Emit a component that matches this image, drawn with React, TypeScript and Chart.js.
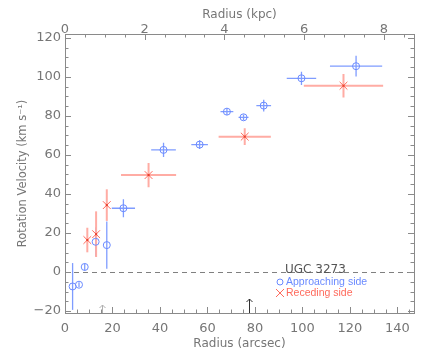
import React, { useEffect, useRef } from 'react';
import { Chart, registerables } from 'chart.js';
Chart.register(...registerables);

// Approaching side (blue circles)
const approachR = [3.2, 5.9, 8.3, 12.9, 17.6, 24.6, 41.5, 56.7, 68.2, 75.2, 83.7, 99.6, 122.6];
const approachV = [-7.4, -6.5, 2.6, 15.5, 13.8, 32.7, 62.6, 65.3, 82.2, 79.3, 85.3, 99.3, 105.5];
const approachRErr = [0, 0, 0, 0, 0, 4.9, 5.2, 3.5, 2.7, 2.1, 3.1, 6.2, 11];
const approachVErr = [12, 1.2, 1.8, 7.4, 12.1, 4.6, 3.6, 2.2, 1.7, 1.5, 3, 3.4, 5.3];

// Receding side (red crosses)
const recedeR = [9.4, 13.1, 17.6, 35.2, 75.7, 117.3];
const recedeV = [16.4, 19.4, 34.3, 49.7, 69.4, 95.5];
const recedeRErr = [0, 0, 0, 11.6, 11, 16.7];
const recedeVErr = [6.3, 11.7, 8.1, 6.2, 4.3, 6];

// Markers along the radius axis
const arrowGrayR = 15.4;
const arrowBlackR = 77.3;

const xMin = 0, xMax = 147;
const yMin = -21, yMax = 122;
const kpcPerArcsec = 8 / 134.3;

const xTicks = [0, 20, 40, 60, 80, 100, 120, 140];
const kpcTicks = [0, 2, 4, 6, 8];
const yTicks = [-20, 0, 20, 40, 60, 80, 100, 120];

const galaxyName = 'UGC 3273';
const legendApproach = 'Approaching side';
const legendRecede = 'Receding side';

const BLUE = '#6a8aff';
const BLUE_BAR = '#7f9cff';
const RED = '#ff6a5c';
const RED_BAR = '#ffaca4';
const AXIS = '#8a8a8a';
const LABEL = '#767676';
const FONT = 'DejaVu Sans';

export default function App() {
  const ref = useRef<HTMLCanvasElement>(null);
  useEffect(() => {
    const canvas = ref.current!;
    const errorBars = {
      id: 'errorBars',
      beforeDatasetsDraw(chart: any) {
        const { ctx, scales } = chart;
        const x = scales.x, y = scales.y;
        ctx.save();
        // zero line
        ctx.strokeStyle = '#808080';
        ctx.lineWidth = 1;
        ctx.setLineDash([5, 4]);
        const y0 = Math.round(y.getPixelForValue(0)) + 0.5;
        ctx.beginPath();
        ctx.moveTo(chart.chartArea.left, y0);
        ctx.lineTo(chart.chartArea.right, y0);
        ctx.stroke();
        ctx.setLineDash([]);
        const draw = (R: number[], V: number[], RE: number[], VE: number[], color: string, w: number) => {
          ctx.strokeStyle = color;
          ctx.lineWidth = w;
          for (let i = 0; i < R.length; i++) {
            const px = x.getPixelForValue(R[i]);
            const py = y.getPixelForValue(V[i]);
            ctx.beginPath();
            if (RE[i] > 0) {
              ctx.moveTo(x.getPixelForValue(R[i] - RE[i]), py);
              ctx.lineTo(x.getPixelForValue(R[i] + RE[i]), py);
            }
            if (VE[i] > 0) {
              ctx.moveTo(px, y.getPixelForValue(V[i] - VE[i]));
              ctx.lineTo(px, y.getPixelForValue(V[i] + VE[i]));
            }
            ctx.stroke();
          }
        };
        draw(approachR, approachV, approachRErr, approachVErr, BLUE_BAR, 1.3);
        draw(recedeR, recedeV, recedeRErr, recedeVErr, RED_BAR, 2);
        ctx.restore();
      },
      afterDatasetsDraw(chart: any) {
        const { ctx, scales } = chart;
        const x = scales.x, y = scales.y;
        ctx.save();
        ctx.fillStyle = '#e8402c';
        for (let i = 0; i < recedeR.length; i++) {
          const px = x.getPixelForValue(recedeR[i]);
          const py = y.getPixelForValue(recedeV[i]);
          ctx.fillRect(px - 1, py - 1, 2, 2);
        }
        ctx.restore();
      },
      afterDraw(chart: any) {
        const { ctx, scales, chartArea } = chart;
        const x = scales.x, y = scales.y, xk = scales.x2;
        ctx.save();
        ctx.strokeStyle = AXIS;
        ctx.lineWidth = 1;
        const { left, right, top, bottom } = chartArea;
        // ticks
        ctx.beginPath();
        for (let v = 0; v <= xMax; v += 5) {
          const p = Math.round(x.getPixelForValue(v)) + 0.5;
          const len = v % 20 === 0 ? 6 : 3.5;
          ctx.moveTo(p, bottom); ctx.lineTo(p, bottom - len);
        }
        for (let v = 0; v <= xMax * kpcPerArcsec; v += 0.5) {
          const p = Math.round(xk.getPixelForValue(v)) + 0.5;
          const len = Math.abs(v % 2) < 1e-6 ? 6 : 3.5;
          ctx.moveTo(p, top); ctx.lineTo(p, top + len);
        }
        for (let v = -20; v <= yMax; v += 5) {
          const p = Math.round(y.getPixelForValue(v)) + 0.5;
          const len = v % 20 === 0 ? 6 : 3.5;
          ctx.moveTo(left, p); ctx.lineTo(left + len, p);
          ctx.moveTo(right, p); ctx.lineTo(right - len, p);
        }
        ctx.stroke();
        // arrows
        const arrow = (r: number, y1: number, y2: number, color: string) => {
          const px = Math.round(x.getPixelForValue(r)) + 0.5;
          ctx.strokeStyle = color;
          ctx.beginPath();
          ctx.moveTo(px, y1); ctx.lineTo(px, y2);
          ctx.moveTo(px - 3, y2 + 3); ctx.lineTo(px, y2); ctx.lineTo(px + 3, y2 + 3);
          ctx.stroke();
        };
        arrow(arrowGrayR, bottom, bottom - 8, '#b0b0b0');
        arrow(arrowBlackR, bottom, bottom - 14, '#303030');
        // label + legend
        ctx.textBaseline = 'alphabetic';
        ctx.textAlign = 'left';
        ctx.fillStyle = '#555555';
        ctx.font = `12px ${FONT}`;
        ctx.fillText(galaxyName, 285, 273);
        ctx.strokeStyle = BLUE;
        ctx.beginPath();
        ctx.arc(280, 282, 3, 0, Math.PI * 2);
        ctx.stroke();
        ctx.font = `10.5px 'Liberation Sans'`;
        ctx.textBaseline = 'middle';
        ctx.fillStyle = BLUE;
        ctx.fillText(legendApproach, 286, 282);
        ctx.strokeStyle = RED;
        ctx.beginPath();
        ctx.moveTo(276, 289); ctx.lineTo(284, 297);
        ctx.moveTo(284, 289); ctx.lineTo(276, 297);
        ctx.stroke();
        ctx.fillStyle = RED;
        ctx.fillText(legendRecede, 286, 293);
        ctx.restore();
      },
    };

    const chart = new Chart(canvas, {
      type: 'scatter',
      data: {
        datasets: [
          {
            label: legendApproach,
            data: approachR.map((r, i) => ({ x: r, y: approachV[i] })),
            pointStyle: 'circle',
            pointRadius: 3.5,
            borderColor: BLUE,
            backgroundColor: 'rgba(0,0,0,0)',
            borderWidth: 1,
          },
          {
            label: legendRecede,
            data: recedeR.map((r, i) => ({ x: r, y: recedeV[i] })),
            pointStyle: 'crossRot',
            pointRadius: 5.5,
            borderColor: RED,
            backgroundColor: RED,
            borderWidth: 1,
          },
        ],
      },
      options: {
        animation: false,
        responsive: false,
        devicePixelRatio: 1,
        layout: { padding: 0 },
        plugins: { legend: { display: false }, tooltip: { enabled: false } },
        scales: {
          x: {
            type: 'linear',
            position: 'bottom',
            min: xMin,
            max: xMax,
            afterFit: (s: any) => { s.height = 36; },
            afterBuildTicks: (s: any) => { s.ticks = xTicks.map((v) => ({ value: v })); },
            grid: { display: false, drawTicks: false },
            border: { display: true, color: AXIS },
            ticks: { color: LABEL, font: { family: FONT, size: 13 }, padding: 8, maxRotation: 0 },
            title: { display: true, text: 'Radius (arcsec)', color: LABEL, font: { family: FONT, size: 12 }, padding: { top: 0, bottom: -2 } },
          },
          x2: {
            type: 'linear',
            position: 'top',
            min: xMin * kpcPerArcsec,
            max: xMax * kpcPerArcsec,
            afterFit: (s: any) => { s.height = 34; },
            afterBuildTicks: (s: any) => { s.ticks = kpcTicks.map((v) => ({ value: v })); },
            grid: { display: false, drawTicks: false },
            border: { display: true, color: AXIS },
            ticks: { color: LABEL, font: { family: FONT, size: 13 }, padding: -3, maxRotation: 0 },
            title: { display: true, text: 'Radius (kpc)', color: LABEL, font: { family: FONT, size: 12 }, padding: { top: 8, bottom: 0 } },
          },
          y: {
            type: 'linear',
            position: 'left',
            min: yMin,
            max: yMax,
            afterFit: (s: any) => { s.width = 65; },
            afterBuildTicks: (s: any) => { s.ticks = yTicks.map((v) => ({ value: v })); },
            grid: { display: false, drawTicks: false },
            border: { display: true, color: AXIS },
            ticks: {
              color: LABEL, font: { family: FONT, size: 13 }, padding: 4,
              callback: (v: any) => (Number(v) < 0 ? '\u2212' + Math.abs(Number(v)) : String(v)),
            },
            title: { display: true, text: 'Rotation Velocity (km s\u207B\u00B9)', color: LABEL, font: { family: FONT, size: 11.5 }, padding: { top: 16, bottom: 0 } },
          },
          y2: {
            type: 'linear',
            position: 'right',
            min: yMin,
            max: yMax,
            afterFit: (s: any) => { s.width = 22; },
            grid: { display: false, drawTicks: false },
            border: { display: true, color: AXIS },
            ticks: { display: false },
          },
        },
      } as any,
      plugins: [errorBars],
    });
    return () => chart.destroy();
  }, []);
  return (
    <div style={{ position: 'absolute', left: 0, top: 0, width: 436, height: 349 }}>
      <canvas ref={ref} width={436} height={349} style={{ display: 'block' }} />
    </div>
  );
}
